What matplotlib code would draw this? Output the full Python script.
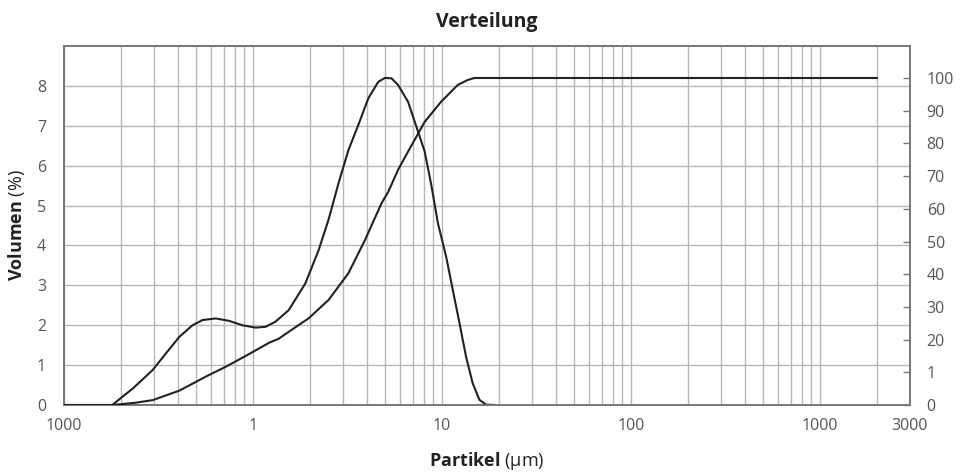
import numpy as np
import matplotlib
matplotlib.use("Agg")
import matplotlib.pyplot as plt
from matplotlib.ticker import LogLocator, FixedLocator, NullFormatter

plt.rcParams['font.family'] = ['Open Sans', 'DejaVu Sans']
plt.rcParams['mathtext.fontset'] = 'custom'
plt.rcParams['mathtext.rm'] = 'Open Sans'
plt.rcParams['mathtext.bf'] = 'Open Sans:bold'

# Volumen-Verteilung (Dichte) in %
freq_x = [0.1, 0.18, 0.232, 0.295, 0.347, 0.408, 0.479, 0.541, 0.636, 0.747,
          0.878, 1.033, 1.166, 1.317, 1.547, 1.894, 2.225, 2.51, 2.836, 3.2,
          3.61, 4.08, 4.60, 4.99, 5.41, 5.87, 6.62, 7.48, 8.11, 8.79,
          9.53, 10.53, 11.42, 12.39, 13.42, 14.56, 15.79, 17.1, 19.0]
freq_y = [0, 0, 0.42, 0.88, 1.30, 1.71, 2.0, 2.13, 2.17, 2.11,
          2.0, 1.94, 1.96, 2.09, 2.38, 3.05, 3.88, 4.64, 5.56, 6.39,
          7.02, 7.69, 8.10, 8.20, 8.19, 8.02, 7.60, 6.85, 6.35, 5.51,
          4.55, 3.72, 2.88, 2.05, 1.21, 0.54, 0.13, 0.01, 0]

# Summenkurve in %
cum_x = [0.1, 0.18, 0.24, 0.295, 0.408, 0.564, 0.718, 0.915, 1.214, 1.371,
         1.547, 1.97, 2.51, 3.2, 3.92, 4.79, 5.20, 5.87, 6.62, 8.11,
         9.92, 12.14, 13.7, 14.86, 2000]
cum_y = [0, 0, 0.7, 1.5, 4.4, 8.7, 11.7, 15, 19.0, 20.3,
         22.4, 26.5, 32.1, 40.3, 50.5, 61.7, 65.2, 72.0, 77.5, 86.6,
         92.8, 97.9, 99.4, 100, 100]

x_ticks = [0.1, 1, 10, 100, 1000, 3000]
x_labels = ["1000", "1", "10", "100", "1000", "3000"]
left_ticks = [0, 1, 2, 3, 4, 5, 6, 7, 8]
right_ticks = [0, 10, 20, 30, 40, 50, 60, 70, 80, 90, 100]
right_labels = ["0", "1", "20", "30", "40", "50", "60", "70", "80", "90", "100"]

grey = "#555555"
grid_c = "#b8b8b8"
spine_c = "#777777"

fig = plt.figure(figsize=(9.63, 4.73), dpi=100)
ax = fig.add_axes([64 / 963, 1 - 405 / 473, (910 - 64) / 963, (405 - 46) / 473])
ax.set_xscale("log")
ax.set_xlim(0.1, 3000)
ax.set_ylim(0, 9)

ax.plot(freq_x, freq_y, color="#222222", lw=1.5, zorder=3)

ax.xaxis.set_major_locator(FixedLocator(x_ticks))
ax.set_xticklabels(x_labels)
ax.xaxis.set_minor_locator(LogLocator(base=10, subs=range(2, 10), numticks=20))
ax.xaxis.set_minor_formatter(NullFormatter())
ax.set_yticks(left_ticks)
ax.grid(True, which="both", axis="x", color=grid_c, lw=1)
ax.grid(True, which="major", axis="y", color=grid_c, lw=1)
ax.tick_params(axis="x", which="both", length=0, pad=9, labelsize=11.5, labelcolor=grey)
ax.tick_params(axis="y", length=0, pad=13, labelsize=11.5, labelcolor=grey)
for s in ax.spines.values():
    s.set_color(spine_c)
    s.set_linewidth(1.2)

ax2 = ax.twinx()
ax2.set_ylim(0, (405 - 46) / 3.27)
ax2.plot(cum_x, cum_y, color="#222222", lw=1.5, zorder=3)
ax2.set_yticks(right_ticks)
ax2.set_yticklabels(right_labels)
ax2.tick_params(axis="y", direction="in", length=5, width=1, color=spine_c,
                pad=12, labelsize=11.5, labelcolor=grey)
for s in ax2.spines.values():
    s.set_color(spine_c)
    s.set_linewidth(1.2)

ax.set_title("Verteilung", fontsize=14, fontweight="bold", color="#222222", pad=14)
ax.set_xlabel(r"$\bf{Partikel}$ (µm)", fontsize=13, color="#222222", labelpad=12)
ax.set_ylabel(r"$\bf{Volumen}$ (%)", fontsize=13, color="#222222", labelpad=7)

fig.savefig("out.png", dpi=100)
